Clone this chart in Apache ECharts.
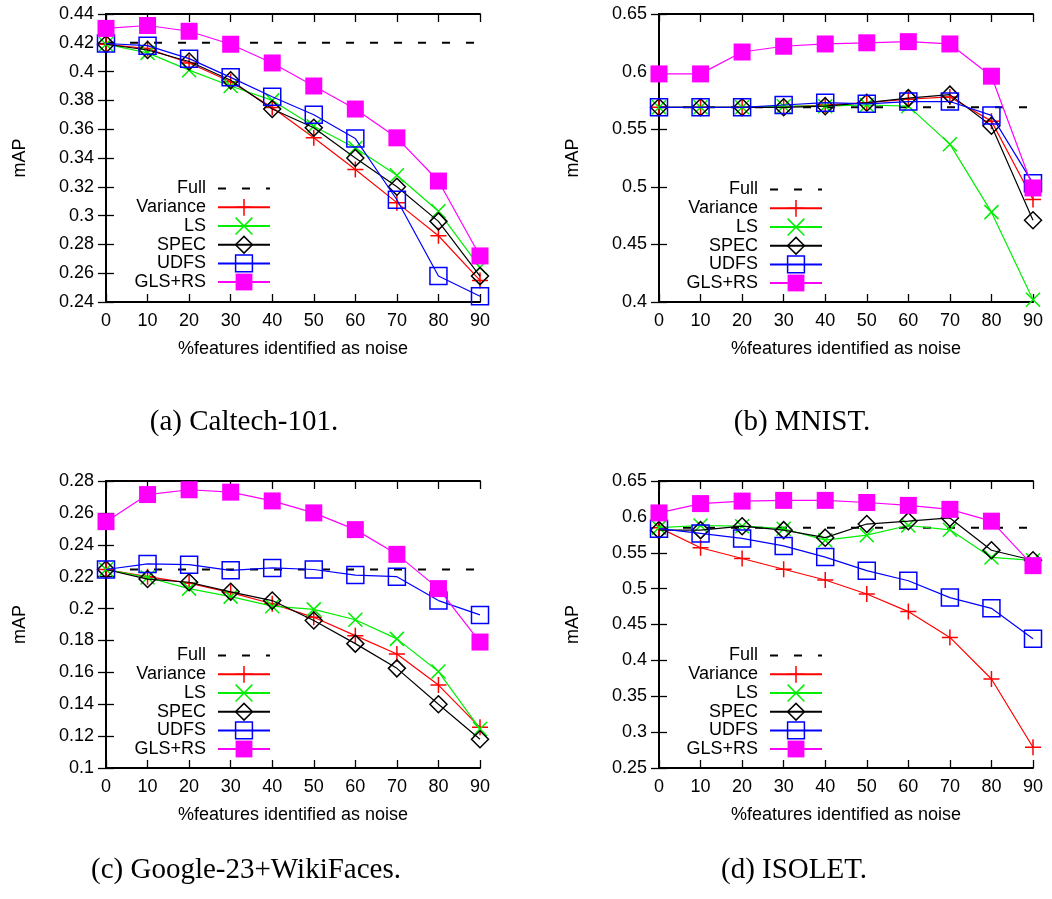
<!DOCTYPE html>
<html>
<head>
<meta charset="utf-8">
<title>mAP vs noise</title>
<script src="https://cdn.jsdelivr.net/npm/echarts@6/dist/echarts.min.js"></script>
<style>
  html, body { margin: 0; padding: 0; background: #fff; }
  #main { width: 1052px; height: 899px; }
</style>
</head>
<body>
<div id="main"></div>
<script>
// x positions (% features identified as noise)
var xs = [0, 10, 20, 30, 40, 50, 60, 70, 80, 90];
var names = ['Full', 'Variance', 'LS', 'SPEC', 'UDFS', 'GLS+RS'];
var captions = ['(a) Caltech-101.', '(b) MNIST.', '(c) Google-23+WikiFaces.', '(d) ISOLET.'];

// (a) Caltech-101
var caltechFull = 0.42;
var caltechVariance = [0.419, 0.416, 0.406, 0.393, 0.375, 0.354, 0.332, 0.309, 0.286, 0.255];
var caltechLS = [0.419, 0.413, 0.401, 0.390, 0.380, 0.362, 0.347, 0.328, 0.303, 0.264];
var caltechSPEC = [0.419, 0.415, 0.407, 0.394, 0.374, 0.361, 0.340, 0.320, 0.296, 0.258];
var caltechUDFS = [0.4195, 0.418, 0.409, 0.396, 0.3825, 0.370, 0.3535, 0.311, 0.258, 0.244];
var caltechGLS = [0.430, 0.432, 0.428, 0.419, 0.406, 0.390, 0.374, 0.354, 0.324, 0.272];

// (b) MNIST
var mnistFull = 0.569;
var mnistVariance = [0.569, 0.569, 0.569, 0.5695, 0.571, 0.573, 0.576, 0.578, 0.557, 0.489];
var mnistLS = [0.569, 0.569, 0.569, 0.570, 0.570, 0.571, 0.570, 0.537, 0.478, 0.402];
var mnistSPEC = [0.569, 0.569, 0.569, 0.569, 0.570, 0.573, 0.577, 0.580, 0.553, 0.471];
var mnistUDFS = [0.569, 0.569, 0.569, 0.571, 0.573, 0.572, 0.574, 0.574, 0.562, 0.503];
var mnistGLS = [0.598, 0.598, 0.617, 0.622, 0.624, 0.625, 0.626, 0.624, 0.596, 0.499];

// (c) Google-23+WikiFaces
var googleFull = 0.2245;
var googleVariance = [0.2245, 0.220, 0.216, 0.210, 0.203, 0.1945, 0.183, 0.1715, 0.152, 0.1255];
var googleLS = [0.2245, 0.2195, 0.2125, 0.2075, 0.2015, 0.1995, 0.193, 0.181, 0.1605, 0.1245];
var googleSPEC = [0.2245, 0.2185, 0.2165, 0.2105, 0.205, 0.1925, 0.178, 0.1625, 0.140, 0.118];
var googleUDFS = [0.2245, 0.228, 0.2275, 0.224, 0.2255, 0.2245, 0.221, 0.220, 0.205, 0.196];
var googleGLS = [0.2545, 0.2715, 0.2745, 0.273, 0.2675, 0.260, 0.2495, 0.234, 0.2125, 0.179];

// (d) ISOLET
var isoletFull = 0.585;
var isoletVariance = [0.585, 0.557, 0.542, 0.527, 0.512, 0.4925, 0.468, 0.432, 0.374, 0.279];
var isoletLS = [0.585, 0.588, 0.587, 0.5835, 0.5675, 0.5745, 0.588, 0.582, 0.5435, 0.5395];
var isoletSPEC = [0.5815, 0.5815, 0.587, 0.5815, 0.571, 0.590, 0.594, 0.5985, 0.5535, 0.5395];
var isoletUDFS = [0.5835, 0.577, 0.570, 0.5595, 0.544, 0.525, 0.511, 0.4875, 0.4725, 0.430];
var isoletGLS = [0.6055, 0.6185, 0.622, 0.623, 0.623, 0.620, 0.616, 0.6105, 0.594, 0.532];

// y ticks of each panel
var yMin = [0.24, 0.4, 0.1, 0.25];
var yMax = [0.44, 0.65, 0.28, 0.65];
var yStep = [0.02, 0.05, 0.02, 0.05];

var panels = [
  [caltechFull, caltechVariance, caltechLS, caltechSPEC, caltechUDFS, caltechGLS],
  [mnistFull, mnistVariance, mnistLS, mnistSPEC, mnistUDFS, mnistGLS],
  [googleFull, googleVariance, googleLS, googleSPEC, googleUDFS, googleGLS],
  [isoletFull, isoletVariance, isoletLS, isoletSPEC, isoletUDFS, isoletGLS]
];

var SANS = '"Liberation Sans", Arial, sans-serif';
var NONE = 'rgba(0,0,0,0)';
var PLUS = 'path://M0,5H10M5,0V10';
var CROSS = 'path://M0,0L10,10M10,0L0,10';

var looks = {
  'Full':     { color: '#000000', symbol: 'circle', size: 0, fill: NONE, border: NONE, bw: 0, lw: 2, dash: [8, 16] },
  'Variance': { color: '#ff0000', symbol: PLUS, size: 16, fill: NONE, bw: 1.5, lw: 1.2 },
  'LS':       { color: '#00ee00', symbol: CROSS, size: 14, fill: NONE, bw: 1.5, lw: 1.2 },
  'SPEC':     { color: '#000000', symbol: 'diamond', size: 17, fill: NONE, bw: 1.5, lw: 1.2 },
  'UDFS':     { color: '#0000ff', symbol: 'rect', size: 17, fill: NONE, bw: 1.5, lw: 1.2 },
  'GLS+RS':   { color: '#ff00ff', symbol: 'rect', size: 17, fill: '#ff00ff', bw: 0, lw: 1.2 }
};

var grids = [
  { left: 106, right: 572, top: 14, bottom: 597 },
  { left: 659, right: 19, top: 14, bottom: 597 },
  { left: 106, right: 572, top: 481, bottom: 131 },
  { left: 659, right: 19, top: 481, bottom: 131 }
];
var legendRight = [781, 229, 781, 229];
var legendTop = [190, 191, 657, 657];
var captionPos = [[244, 422], [802, 422], [246, 870], [794, 870]];

var frame = { show: true, lineStyle: { color: '#000', width: 2 } };
var tick = { show: true, inside: true, length: 8, lineStyle: { color: '#000', width: 1.3 } };

var xAxes = [], yAxes = [], series = [], legends = [], texts = [];
for (var p = 0; p < 4; p++) {
  xAxes.push({
    type: 'value', gridIndex: p, min: 0, max: 90, interval: 10, position: 'bottom',
    name: '%features identified as noise', nameLocation: 'middle', nameGap: 38,
    nameTextStyle: { fontFamily: SANS, fontSize: 18, color: '#000' },
    axisLine: frame, axisTick: tick, splitLine: { show: false },
    axisLabel: { fontFamily: SANS, fontSize: 18, color: '#000', margin: 10 }
  });
  xAxes.push({
    type: 'value', gridIndex: p, min: 0, max: 90, interval: 10, position: 'top',
    axisLine: frame, axisTick: tick, splitLine: { show: false }, axisLabel: { show: false }
  });
  yAxes.push({
    type: 'value', gridIndex: p, min: yMin[p], max: yMax[p], interval: yStep[p], position: 'left',
    name: 'mAP', nameLocation: 'middle', nameGap: 77,
    nameTextStyle: { fontFamily: SANS, fontSize: 18, color: '#000' },
    axisLine: frame, axisTick: tick, splitLine: { show: false },
    axisLabel: { fontFamily: SANS, fontSize: 18, color: '#000', margin: 12 }
  });
  yAxes.push({
    type: 'value', gridIndex: p, min: yMin[p], max: yMax[p], interval: yStep[p], position: 'right',
    axisLine: frame, axisTick: tick, splitLine: { show: false }, axisLabel: { show: false }
  });

  for (var s = 0; s < names.length; s++) {
    var nm = names[s];
    var lk = looks[nm];
    var vals = panels[p][s];
    var data = xs.map(function (x, i) {
      return [x, Array.isArray(vals) ? vals[i] : vals];
    });
    series.push({
      type: 'line', name: nm, xAxisIndex: p * 2, yAxisIndex: p * 2,
      data: data, symbol: lk.symbol, symbolSize: lk.size, showSymbol: nm !== 'Full',
      lineStyle: { color: lk.color, width: lk.lw, type: lk.dash || 'solid' },
      itemStyle: { color: lk.fill, borderColor: lk.border || lk.color, borderWidth: lk.bw },
      emphasis: { disabled: true }, silent: true, z: 2 + s
    });
    legends.push({
      data: [nm], orient: 'vertical', align: 'right', selectedMode: false,
      right: legendRight[p], top: legendTop[p] + s * 18.7 - 10.5,
      padding: 0, itemWidth: 52, itemHeight: 21,
      itemStyle: { borderWidth: lk.bw },
      textStyle: { fontFamily: SANS, fontSize: 18, color: '#000', padding: [0, 7, 0, 0] }
    });
  }

  texts.push({
    type: 'text', x: captionPos[p][0], y: captionPos[p][1],
    style: {
      text: captions[p], fill: '#000', textAlign: 'center', textVerticalAlign: 'middle',
      font: '29px "Liberation Serif", "Times New Roman", serif'
    }
  });
}

var myChart = echarts.init(document.getElementById('main'));
myChart.setOption({
  backgroundColor: '#fff',
  animation: false,
  grid: grids,
  xAxis: xAxes,
  yAxis: yAxes,
  legend: legends,
  series: series,
  graphic: texts
});
</script>
</body>
</html>
